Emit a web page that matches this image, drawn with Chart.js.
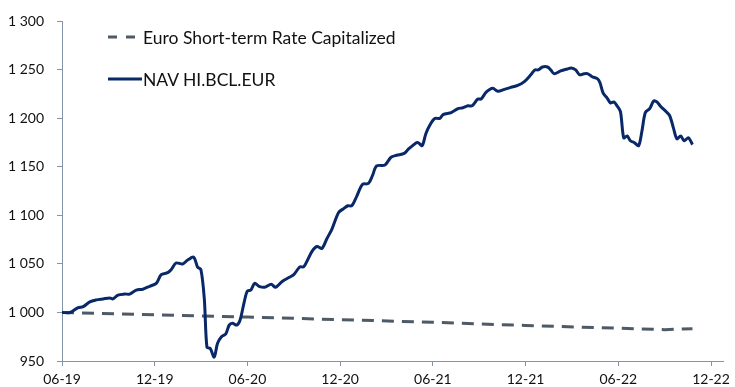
<!DOCTYPE html>
<html>
<head>
<meta charset="utf-8">
<title>NAV HI.BCL.EUR</title>
<script src="https://cdn.jsdelivr.net/npm/chart.js@4/dist/chart.umd.min.js"></script>
<style>
    html, body { margin: 0; padding: 0; background: #fff; }
    #wrap { position: relative; width: 735px; height: 387px; }
    #legend {
        position: absolute; left: 108px; top: 26px;
        font-family: Lato, "Open Sans", sans-serif; font-size: 17.5px; color: #111;
    }
    .item { display: flex; align-items: center; height: 22px; margin-bottom: 20px; }
    .item svg { width: 34px; height: 6px; margin-right: 1px; }
</style>
</head>
<body>
<div id="wrap">
    <canvas id="navChart" width="735" height="387"></canvas>
    <div id="legend"></div>
</div>
<script>
// x values are months elapsed since the start of June 2019
const navMonth = [
    0, 0.52, 1.05, 1.37, 1.80, 2.23, 2.66, 3.09, 3.30, 3.62,
    4.06, 4.38, 4.81, 5.23, 5.67, 6.10, 6.42, 6.84, 7.06, 7.38,
    7.81, 8.13, 8.52, 8.77, 8.99, 9.21, 9.38, 9.59, 9.85, 10.06,
    10.32, 10.60, 10.82, 11.03, 11.31, 11.52, 11.78, 11.99, 12.21, 12.47,
    12.75, 13.11, 13.54, 13.82, 14.25, 14.68, 15.00, 15.39, 15.64, 15.86,
    16.18, 16.50, 16.82, 17.14, 17.47, 17.90, 18.22, 18.50, 18.75, 19.08,
    19.44, 19.83, 20.09, 20.36, 20.90, 21.29, 21.65, 22.15, 22.40, 22.84,
    23.05, 23.31, 23.54, 23.80, 24.12, 24.45, 24.66, 25.19, 25.62, 25.94,
    26.27, 26.54, 26.91, 27.12, 27.45, 27.88, 28.20, 28.63, 29.05, 29.49,
    29.92, 30.34, 30.60, 30.82, 31.10, 31.42, 31.63, 31.85, 32.27, 32.70,
    32.96, 33.24, 33.50, 33.78, 34.04, 34.31, 34.64, 34.81, 35.02, 35.28,
    35.49, 35.71, 35.92, 36.14, 36.35, 36.57, 36.78, 37.04, 37.32, 37.53,
    37.75, 38.03, 38.29, 38.50, 38.76, 39.03, 39.32, 39.57, 39.79, 40.04,
    40.26, 40.54, 40.80
];
const navValue = [
    1000, 1000, 1005, 1006, 1011, 1013, 1014, 1015, 1014, 1018,
    1019, 1019, 1023, 1024, 1027, 1030, 1039, 1041, 1044, 1051,
    1050, 1054, 1057, 1047, 1044, 1014, 964, 963, 954, 968,
    975, 978, 987, 989, 987, 992, 1010, 1022, 1023, 1030,
    1027, 1026, 1029, 1026, 1032, 1036, 1039, 1047, 1047, 1053,
    1063, 1068, 1066, 1076, 1086, 1103, 1107, 1110, 1110, 1120,
    1132, 1133, 1141, 1151, 1152, 1160, 1162, 1164, 1168, 1174,
    1175, 1172, 1184, 1193, 1200, 1200, 1204, 1206, 1210, 1211,
    1213, 1213, 1220, 1220, 1227, 1231, 1228, 1230, 1232, 1234,
    1238, 1245, 1250, 1250, 1253, 1253, 1250, 1246, 1249, 1251,
    1252, 1250, 1245, 1246, 1246, 1243, 1241, 1237, 1226, 1221,
    1216, 1217, 1213, 1207, 1180, 1182, 1177, 1175, 1172, 1187,
    1206, 1210, 1218, 1217, 1212, 1208, 1203, 1190, 1179, 1182,
    1177, 1180, 1173
];
const estrMonth = [0, 6, 12, 18, 24, 30, 36, 39, 40.8];
const estrValue = [1000, 997.6, 995.3, 992.6, 989.9, 986.6, 983.8, 982.3, 983.2];
const tickLabels = ['06-19', '12-19', '06-20', '12-20', '06-21', '12-21', '06-22', '12-22'];

const axisColor = '#8593a6';
const tickFont = { family: 'Lato, "Open Sans", sans-serif', size: 14 };

function toPoints(xs, ys) {
    return xs.map((x, i) => ({ x: x, y: ys[i] }));
}

// "1 250" style thousands
function fmtThousands(v) {
    if (v < 1000) return String(v);
    return Math.floor(v / 1000) + ' ' + String(v % 1000).padStart(3, '0');
}

const datasets = [
    {
        label: 'Euro Short-term Rate Capitalized',
        data: toPoints(estrMonth, estrValue),
        borderColor: '#4e5a66',
        borderWidth: 3,
        borderDash: [12, 8],
        pointRadius: 0,
        tension: 0,
        order: 2
    },
    {
        label: 'NAV HI.BCL.EUR',
        data: toPoints(navMonth, navValue),
        borderColor: '#082868',
        borderWidth: 3,
        pointRadius: 0,
        tension: 0.3,
        order: 1
    }
];

const ctx = document.getElementById('navChart').getContext('2d');
new Chart(ctx, {
    type: 'line',
    data: { datasets: datasets },
    options: {
        responsive: false,
        animation: false,
        layout: { autoPadding: false, padding: { top: 16, right: 8, left: 0, bottom: 0 } },
        plugins: { legend: { display: false }, tooltip: { enabled: false } },
        scales: {
            x: {
                type: 'linear',
                min: 0,
                max: 42.8,
                afterBuildTicks: function(scale) {
                    scale.ticks = tickLabels.map((_, i) => ({ value: i * 6 }));
                },
                afterFit: function(scale) { scale.height = 26; },
                ticks: {
                    callback: v => tickLabels[Math.round(v / 6)],
                    font: tickFont,
                    color: '#111',
                    padding: 5,
                    maxRotation: 0,
                    autoSkip: false
                },
                grid: { drawOnChartArea: false, tickLength: 5, color: axisColor },
                border: { color: axisColor, width: 1 }
            },
            y: {
                min: 950,
                max: 1300,
                afterFit: function(scale) { scale.width = 62; },
                ticks: {
                    stepSize: 50,
                    callback: v => fmtThousands(v),
                    font: tickFont,
                    color: '#111',
                    padding: 13
                },
                grid: { drawOnChartArea: false, tickLength: 5, color: axisColor },
                border: { color: axisColor, width: 1 }
            }
        }
    }
});

// legend stacked inside the plot area, built from the datasets
const legend = document.getElementById('legend');
datasets.forEach(ds => {
    const item = document.createElement('div');
    item.className = 'item';
    const dash = ds.borderDash ? ' stroke-dasharray="9 9"' : '';
    item.innerHTML =
        '<svg viewBox="0 0 34 6"><line x1="0" y1="3" x2="34" y2="3" stroke="' + ds.borderColor +
        '" stroke-width="3"' + dash + '/></svg><span>' + ds.label + '</span>';
    legend.appendChild(item);
});
</script>
</body>
</html>
